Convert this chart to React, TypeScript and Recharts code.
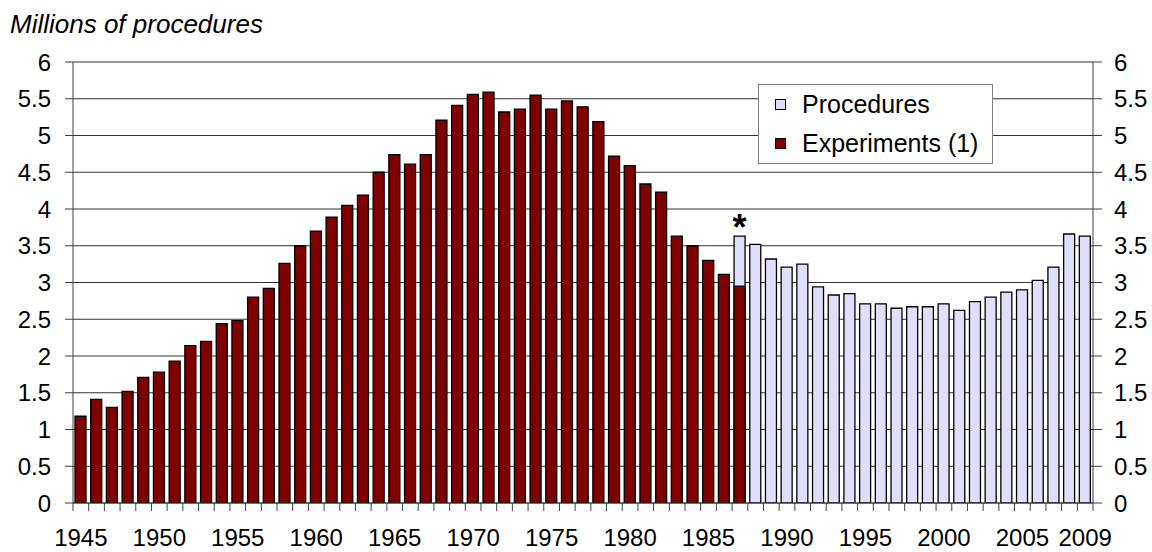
import {Bar, BarChart, CartesianGrid, LabelList, Legend, XAxis, YAxis} from "recharts";

const years = [
    1945, 1946, 1947, 1948, 1949, 1950, 1951, 1952, 1953, 1954,
    1955, 1956, 1957, 1958, 1959, 1960, 1961, 1962, 1963, 1964,
    1965, 1966, 1967, 1968, 1969, 1970, 1971, 1972, 1973, 1974,
    1975, 1976, 1977, 1978, 1979, 1980, 1981, 1982, 1983, 1984,
    1985, 1986, 1987, 1988, 1989, 1990, 1991, 1992, 1993, 1994,
    1995, 1996, 1997, 1998, 1999, 2000, 2001, 2002, 2003, 2004,
    2005, 2006, 2007, 2008, 2009,
];

// experiments (1) from 1945 to 1987
const experimentsFrom = 1945;
const experiments = [
    1.18, 1.41, 1.30, 1.52, 1.71, 1.78, 1.93, 2.14, 2.20, 2.44,
    2.48, 2.80, 2.92, 3.26, 3.50, 3.70, 3.89, 4.05, 4.19, 4.50,
    4.74, 4.61, 4.74, 5.21, 5.41, 5.56, 5.59, 5.32, 5.36, 5.55,
    5.36, 5.47, 5.39, 5.19, 4.72, 4.59, 4.34, 4.23, 3.63, 3.50,
    3.30, 3.11, 2.95,
];

// procedures from 1987 to 2009
const proceduresFrom = 1987;
const procedures = [
    3.63, 3.52, 3.32, 3.21, 3.25, 2.94, 2.83, 2.85, 2.71, 2.71,
    2.65, 2.67, 2.67, 2.71, 2.62, 2.74, 2.80, 2.87, 2.90, 3.03,
    3.21, 3.66, 3.63,
];

const starYears = [1987];
const labelYears = [1945, 1950, 1955, 1960, 1965, 1970, 1975, 1980, 1985, 1990, 1995, 2000, 2005, 2009];
const yTicks = [0, 0.5, 1, 1.5, 2, 2.5, 3, 3.5, 4, 4.5, 5, 5.5, 6];

const data = years.map(year => ({
    year,
    experiments: experiments[year - experimentsFrom] ?? null,
    procedures: year >= proceduresFrom ? procedures[year - proceduresFrom] ?? null : null,
    note: starYears.includes(year) ? '*' : '',
}));

const FONT = '"Liberation Sans", Arial, sans-serif';
const PROC_COLOR = '#DFDFFB';
const EXP_COLOR = '#800000';
const X_TICK_SIZE = 8;
const X_TICK_MARGIN = 18;

function XTick(props: any) {
    const {x, y, payload, index} = props;
    const half = payload.offset ?? 7.85;
    const y1 = y - X_TICK_MARGIN - X_TICK_SIZE;
    const y2 = y - X_TICK_MARGIN;
    const show = labelYears.includes(payload.value);
    return (
        <g>
            <line x1={x - half} x2={x - half} y1={y1} y2={y2} stroke="#404040"/>
            {index === years.length - 1 &&
                <line x1={x + half} x2={x + half} y1={y1} y2={y2} stroke="#404040"/>}
            {show &&
                <text x={x} y={y} dy="0.71em" textAnchor="middle" fill="#000" fontSize={24} fontFamily={FONT}>
                    {payload.value}
                </text>}
        </g>
    );
}

function Star(props: any) {
    if (props.value !== '*') return null;
    const vb = props.viewBox ?? {};
    const x = vb.x ?? props.x;
    const y = vb.y ?? props.y;
    const w = vb.width ?? props.width ?? 0;
    if (x == null || y == null) return null;
    return (
        <text x={x + w / 2} y={y + 4} textAnchor="middle" fontSize={36} fontWeight="bold"
              fontFamily={FONT} fill="#000">*</text>
    );
}

function LegendBox() {
    const items = [
        {name: 'Procedures', color: PROC_COLOR},
        {name: 'Experiments (1)', color: EXP_COLOR},
    ];
    return (
        <div style={{
            width: 235, height: 80, boxSizing: 'border-box', border: '1px solid #808080',
            background: '#fff', fontFamily: FONT, fontSize: 25, color: '#000',
        }}>
            {items.map(it => (
                <div key={it.name} style={{height: 39, display: 'flex', alignItems: 'center'}}>
                    <span style={{
                        display: 'inline-block', width: 9, height: 9, marginLeft: 16, marginRight: 16,
                        border: '1px solid #000', background: it.color,
                    }}/>
                    <span>{it.name}</span>
                </div>
            ))}
        </div>
    );
}

export default function App() {
    const tick = {fill: '#000', fontSize: 24, fontFamily: FONT};
    return (
        <div style={{position: 'fixed', left: 0, top: 0, width: 1152, height: 552, background: '#fff'}}>
            <div style={{
                position: 'absolute', left: 10, top: 12, fontFamily: FONT, fontSize: 26,
                fontStyle: 'italic', lineHeight: '25px', color: '#000', whiteSpace: 'nowrap',
            }}>
                Millions of procedures
            </div>
            <BarChart width={1152} height={552} data={data} barSize={11} barGap={-11}
                      margin={{top: 62, right: 0, bottom: 0, left: 0}}>
                <CartesianGrid vertical={false} stroke="#333" yAxisId="left"/>
                <XAxis dataKey="year" interval={0} tickLine={false} tickSize={X_TICK_SIZE}
                       tickMargin={X_TICK_MARGIN} height={49} tick={<XTick/>} stroke="#404040"/>
                <YAxis yAxisId="left" orientation="left" width={73} domain={[0, 6]} ticks={yTicks}
                       allowDataOverflow tickSize={8} tickMargin={14} tick={tick} stroke="#404040"/>
                <YAxis yAxisId="right" orientation="right" width={59} domain={[0, 6]} ticks={yTicks}
                       allowDataOverflow tickSize={9} tickMargin={12} tick={tick} stroke="#404040"/>
                <Legend layout="vertical" align="center" verticalAlign="middle" content={<LegendBox/>}
                        wrapperStyle={{position: 'absolute', left: 758, top: 84, width: 235, height: 80}}/>
                <Bar yAxisId="left" dataKey="procedures" name="Procedures" fill={PROC_COLOR} stroke="#000"
                     strokeWidth={1.3} isAnimationActive={false}>
                    <LabelList dataKey="note" content={<Star/>}/>
                </Bar>
                <Bar yAxisId="right" dataKey="experiments" name="Experiments (1)" fill={EXP_COLOR} stroke="#000"
                     strokeWidth={1.3} isAnimationActive={false}/>
            </BarChart>
        </div>
    );
}
